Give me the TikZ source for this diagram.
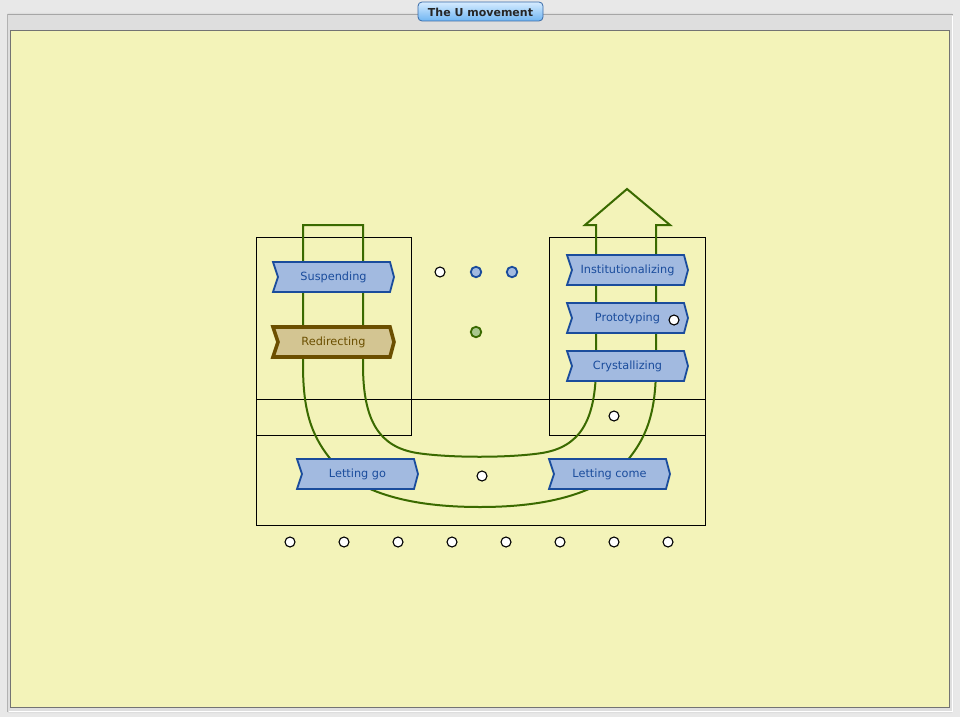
\documentclass[tikz,border=0pt]{standalone}
\usepackage{fontspec}
\setmainfont{DejaVu Sans}
\definecolor{bgout}{HTML}{E8E8E8}
\definecolor{panel}{HTML}{DEDEDE}
\definecolor{paper}{HTML}{F3F3B9}
\definecolor{chfill}{HTML}{A2BAE0}
\definecolor{chline}{HTML}{1A4C9C}
\definecolor{brfill}{HTML}{D3C592}
\definecolor{brline}{HTML}{6B4F00}
\definecolor{grn}{HTML}{3A6A00}
\definecolor{grnfill}{HTML}{A9C78E}
\definecolor{btntop}{HTML}{D6ECFF}
\definecolor{btnbot}{HTML}{6FB5F2}
\definecolor{btnline}{HTML}{3A6BA8}
\tikzset{
  chevbox/.style={fill=chfill,draw=chline,line width=1.8pt,line join=miter},
  chevtext/.style={text=chline,font=\fontsize{11.3}{13}\selectfont,inner sep=0pt},
  brbox/.style={fill=brfill,draw=brline,line width=3.6pt,line join=miter},
  brtext/.style={text=brline,font=\fontsize{11.3}{13}\selectfont,inner sep=0pt},
  frame/.style={draw=black,line width=1pt},
  uline/.style={draw=grn,line width=2pt,line join=miter},
  dotw/.style={circle,draw=black,fill=white,line width=1.1pt,minimum size=10pt,inner sep=0pt},
  dotb/.style={circle,draw=chline,fill=chfill,line width=1.8pt,minimum size=10.5pt,inner sep=0pt},
  dotg/.style={circle,draw=grn,fill=grnfill,line width=1.8pt,minimum size=10.5pt,inner sep=0pt},
}
% \chev{name}{x0}{y0}{x1}{y1}{boxstyle}{textstyle}{text}
\newcommand{\chev}[8]{%
  \path[#6] (#2,#3) -- (#4-4,#3) -- (#4,{(#3+#5)/2}) -- (#4-4,#5) -- (#2,#5) -- (#2+5,{(#3+#5)/2}) -- cycle;
  \node[#7] (#1) at ({(#2+#4)/2},{(#3+#5)/2}) {#8};}
\begin{document}
\begin{tikzpicture}[x=1pt,y=-1pt]
\useasboundingbox (0,0) rectangle (960,717);
% window chrome
\fill[bgout] (0,0) rectangle (960,717);
\fill[panel,rounded corners=2pt] (7,13) rectangle (953,713);
\draw[gray!70,line width=0.8pt] (7,14.5) -- (953,14.5);
\draw[gray!60] (7.5,14) -- (7.5,712);
\draw[white,line width=1pt] (952,16) -- (952,711) -- (9,711);
\fill[paper] (10,30) rectangle (950,708);
\draw[gray!90!black,line width=1pt] (10.5,30.5) rectangle (949.5,707.5);
% title button
\shade[top color=btntop,bottom color=btnbot,rounded corners=4pt,draw=btnline,line width=0.8pt] (418,2) rectangle (543,21);
\node[font=\fontsize{11}{13}\selectfont\bfseries,text=black!85,inner sep=0pt] (title) at (480.5,12) {The U movement};
% frames
\path[frame] (256,237) rectangle (411,435);
\path[frame] (549,237) rectangle (705,435);
\path[frame] (256,399) rectangle (705,525);
% U shape
\path[uline] (303,365) -- (303,225) -- (363,225) -- (363,365)
  .. controls (363,422) and (380,447) .. (417,453)
  .. controls (450,458) and (509,458) .. (542,453)
  .. controls (579,447) and (596,422) .. (596,365)
  -- (596,225) -- (585,225) -- (627,189) -- (670,225) -- (656,225) -- (656,365)
  .. controls (656,420) and (644,445) .. (614,475)
  .. controls (579,500) and (529,507) .. (480,507)
  .. controls (430,507) and (380,500) .. (345,475)
  .. controls (315,445) and (303,420) .. (303,365);
% chevrons
\chev{susp}{273}{262}{394}{292}{chevbox}{chevtext}{Suspending}
\chev{redir}{273}{327}{394}{357}{brbox}{brtext}{Redirecting}
\chev{inst}{567}{255}{688}{285}{chevbox}{chevtext}{Institutionalizing}
\chev{proto}{567}{303}{688}{333}{chevbox}{chevtext}{Prototyping}
\chev{cryst}{567}{351}{688}{381}{chevbox}{chevtext}{Crystallizing}
\chev{letgo}{297}{459}{418}{489}{chevbox}{chevtext}{Letting go}
\chev{letcome}{549}{459}{670}{489}{chevbox}{chevtext}{Letting come}
% dots
\node[dotw] (d1) at (440,272) {};
\node[dotb] (d2) at (476,272) {};
\node[dotb] (d3) at (512,272) {};
\node[dotg] (d4) at (476,332) {};
\node[dotw] (d5) at (674,320) {};
\node[dotw] (d6) at (614,416) {};
\node[dotw] (d7) at (482,476) {};
\foreach \i/\x in {1/290,2/344,3/398,4/452,5/506,6/560,7/614,8/668}
  \node[dotw] (b\i) at (\x,542) {};
\end{tikzpicture}
\end{document}
